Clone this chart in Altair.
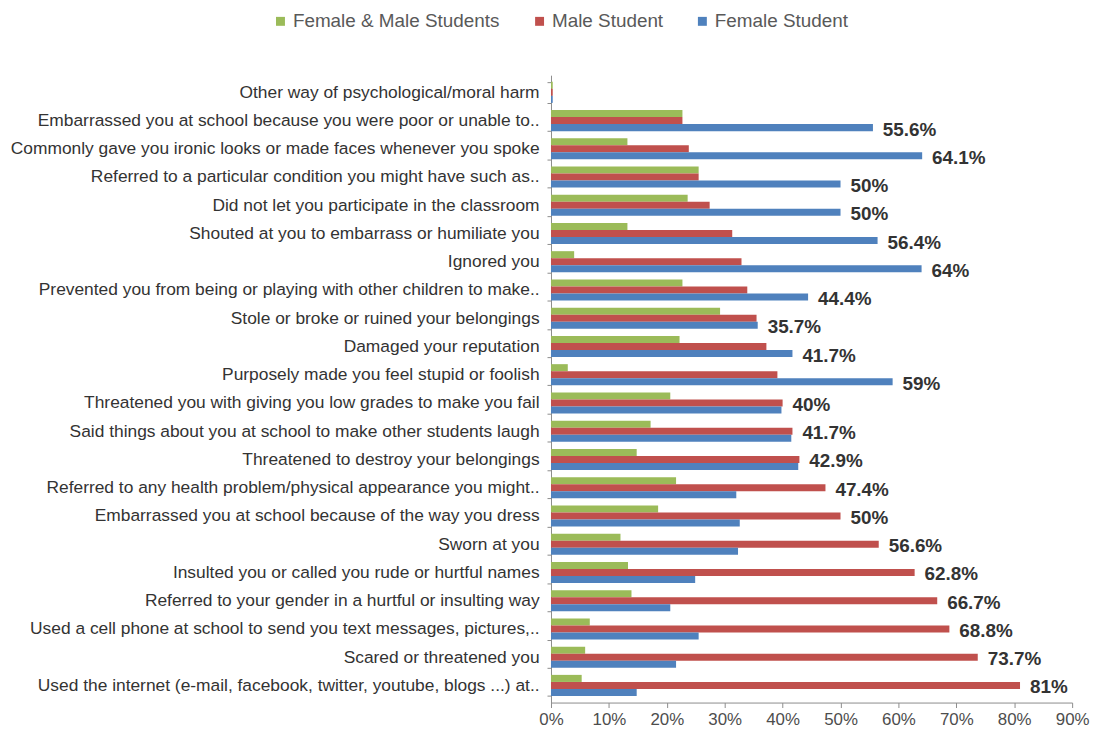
import altair as alt
import pandas as pd

categories = [
    "Other way of psychological/moral harm",
    "Embarrassed you at school because you were poor or unable to..",
    "Commonly gave you ironic looks or made faces whenever you spoke",
    "Referred to a particular condition you might have such as..",
    "Did not let you participate in the classroom",
    "Shouted at you to embarrass or humiliate you",
    "Ignored you",
    "Prevented you from being or playing with other children to make..",
    "Stole or broke or ruined your belongings",
    "Damaged your reputation",
    "Purposely made you feel stupid or foolish",
    "Threatened you with giving you low grades to make you fail",
    "Said things about you at school to make other students laugh",
    "Threatened to destroy your belongings",
    "Referred to any health problem/physical appearance you might..",
    "Embarrassed you at school because of the way you dress",
    "Sworn at you",
    "Insulted you or called you rude or hurtful names",
    "Referred to your gender in a hurtful or insulting  way",
    "Used a cell phone at school to send you text messages, pictures,..",
    "Scared or threatened you",
    "Used the internet (e-mail, facebook, twitter, youtube, blogs ...) at..",
]

both_students = [0.3, 22.7, 13.2, 25.5, 23.6, 13.2, 4.0, 22.7, 29.2, 22.2, 2.9,
                 20.6, 17.2, 14.8, 21.6, 18.5, 12.0, 13.3, 13.9, 6.7, 5.9, 5.3]
male_student = [0.3, 22.7, 23.8, 25.5, 27.4, 31.3, 32.9, 33.9, 35.5, 37.2, 39.1,
                40.0, 41.7, 42.9, 47.4, 50.0, 56.6, 62.8, 66.7, 68.8, 73.7, 81.0]
female_student = [0.3, 55.6, 64.1, 50.0, 50.0, 56.4, 64.0, 44.4, 35.7, 41.7, 59.0,
                  39.8, 41.5, 42.7, 32.0, 32.6, 32.3, 24.9, 20.6, 25.5, 21.6, 14.8]
value_labels = ["", "55.6%", "64.1%", "50%", "50%", "56.4%", "64%", "44.4%", "35.7%",
                "41.7%", "59%", "40%", "41.7%", "42.9%", "47.4%", "50%", "56.6%",
                "62.8%", "66.7%", "68.8%", "73.7%", "81%"]

series_order = ["Female & Male Students", "Male Student", "Female Student"]
series_colors = ["#9BBB59", "#C0504D", "#4F81BD"]
x_ticks = [0, 10, 20, 30, 40, 50, 60, 70, 80, 90]

rows = []
lab_rows = []
for i, cat in enumerate(categories):
    vals = [both_students[i], male_student[i], female_student[i]]
    for s, v in zip(series_order, vals):
        rows.append({"category": cat, "series": s, "value": v})
    m = max(vals)
    lab_rows.append({"category": cat, "series": series_order[vals.index(m)],
                     "pos": m, "label": value_labels[i]})
df = pd.DataFrame(rows)
lab_df = pd.DataFrame(lab_rows)

font = "Liberation Sans"

y_enc = alt.Y(
    "category:N", sort=categories,
    scale=alt.Scale(paddingInner=0.25, paddingOuter=0.23),
    axis=alt.Axis(
        title=None, labelFont=font, labelFontSize=17.5, labelColor="#333333",
        labelPadding=8, labelLimit=0, domainColor="#8c8c8c", tickColor="#8c8c8c",
        tickSize=4, tickBand="extent",
    ),
)
yoff_enc = alt.YOffset("series:N", sort=series_order,
                       scale=alt.Scale(domain=series_order, paddingInner=0, paddingOuter=0))

x_enc = alt.X(
    "value:Q",
    scale=alt.Scale(domain=[0, 90], nice=False),
    axis=alt.Axis(
        title=None, values=x_ticks, labelExpr="datum.value + '%'", grid=False,
        labelFont=font, labelFontSize=17, labelColor="#4d4d4d", labelPadding=4,
        labelFlush=False, domainColor="#8c8c8c", tickColor="#8c8c8c", tickSize=5,
    ),
)

bars = alt.Chart(df).mark_bar().encode(
    y=y_enc,
    yOffset=yoff_enc,
    x=x_enc,
    color=alt.Color(
        "series:N", sort=series_order,
        scale=alt.Scale(domain=series_order, range=series_colors),
        legend=alt.Legend(
            title=None, orient="none", direction="horizontal", legendX=-282, legendY=-64,
            symbolType="square", symbolSize=81, symbolStrokeWidth=0,
            labelFont=font, labelFontSize=19, labelColor="#595959", labelOffset=3,
            labelLimit=0, columnPadding=30, padding=0,
        ),
    ),
)

labels = alt.Chart(lab_df).mark_text(
    align="left", baseline="middle", dx=10, dy=2, font=font, fontSize=19,
    fontWeight="bold", color="#333333",
).encode(
    y=alt.Y("category:N", sort=categories),
    yOffset=alt.YOffset("series:N", sort=series_order),
    x=alt.X("pos:Q"),
    text="label:N",
)

chart = alt.layer(bars, labels).properties(
    width=525, height=632,
    autosize=alt.AutoSizeParams(type="none"),
    padding={"left": 547, "top": 65, "right": 19, "bottom": 32},
).configure(background="white").configure_view(strokeWidth=0, stroke="transparent")

chart.save("out.html", embed_options={"renderer": "svg", "actions": False})
